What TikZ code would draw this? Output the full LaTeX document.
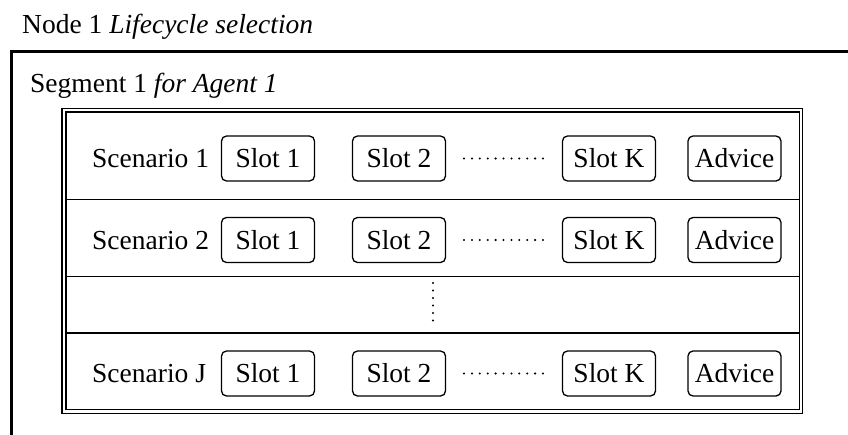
\documentclass[tikz,border=0pt]{standalone}
\usepackage{fontspec}
\setmainfont{Liberation Serif}
\begin{document}
\begin{tikzpicture}[x=1pt,y=-1pt,
  every node/.style={font=\fontsize{27.5}{32}\selectfont, inner sep=0pt},
  slotbox/.style={draw, line width=1.3pt, rounded corners=5pt,
    minimum width=93pt, minimum height=45pt},
  frameline/.style={line width=1.3pt},
  hdots/.style={line width=2.3pt, line cap=round, dash pattern=on 0pt off 7.9pt},
  vdots/.style={line width=2.3pt, line cap=round, dash pattern=on 0pt off 7.5pt}]
  \useasboundingbox (0,0) rectangle (848,434);

  % titles
  \node[anchor=base west] (node1) at (22,33) {Node 1 \textit{Lifecycle selection}};
  \node[anchor=base west] (seg1) at (30,92) {Segment 1 \textit{for Agent 1}};

  % segment frame (open at right and bottom)
  \coordinate (fbl) at (11.5,440);
  \coordinate (ftl) at (11.5,51.5);
  \coordinate (ftr) at (852,51.5);
  \draw[line width=3pt, line join=miter] (fbl) -- (ftl) -- (ftr);

  % double frame around the scenarios
  \draw[frameline] (62,108.5) rectangle (802.5,413.5);
  \draw[frameline] (66,112) rectangle (799.5,409.5);
  \foreach \y in {199.5,276.5,333} \draw[frameline] (66,\y) -- (799.5,\y);

  % scenario rows
  \coordinate (lab) at (92,0);
  \foreach \r/\cy/\lbl in {1/158.5/1, 2/240/2, J/373.5/J} {
    \node[slotbox] (s\r a) at (268,\cy) {Slot 1};
    \node[slotbox] (s\r b) at (399,\cy) {Slot 2};
    \node[slotbox] (s\r k) at (609,\cy) {Slot K};
    \node[slotbox] (s\r v) at (734.5,\cy) {Advice};
    \node[anchor=base west] (sc\r) at (lab |- s\r a.base) {Scenario \lbl};
    \coordinate (d\r l) at (464,\cy);
    \coordinate (d\r r) at (544,\cy);
    \draw[hdots] (d\r l) -- (d\r r);
  }

  % vertical ellipsis between rows
  \coordinate (vt) at (433,283);
  \coordinate (vb) at (433,328);
  \draw[vdots] (vt) -- (vb);
\end{tikzpicture}
\end{document}
